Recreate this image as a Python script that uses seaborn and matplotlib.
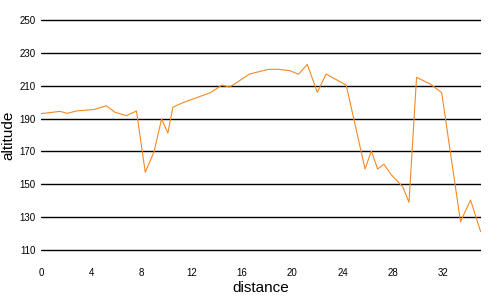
import matplotlib
matplotlib.use("Agg")
import matplotlib.pyplot as plt
import seaborn as sns
import pandas as pd

distance = [0, 1.1, 1.5, 2.1, 2.8, 4.2, 5.2, 5.9, 6.8, 7.6, 8.3, 9.0, 9.6, 10.1, 10.5, 11.3,
            13.5, 14.4, 15.0, 15.4, 16.6, 18.1, 18.9, 19.8, 20.5, 21.2, 22.0, 22.7, 24.3,
            25.8, 26.3, 26.8, 27.3, 27.9, 28.8, 29.3, 29.9, 31.0, 31.9, 33.4, 34.2, 35.0]
altitude = [193.0, 194.0, 194.4, 193.2, 194.6, 195.5, 197.8, 193.8, 191.8, 194.6, 157.3, 169.8,
            189.7, 181.2, 196.9, 199.7, 205.8, 210.4, 209.2, 211, 217.1, 220, 220, 219.2,
            217, 223, 206, 217.1, 210.4, 159.3, 170.3, 159.3, 162.2, 155.7, 148.5, 139,
            215.1, 211, 205.8, 127.2, 140.4, 121.2]
x_ticks = [0, 4, 8, 12, 16, 20, 24, 28, 32]
y_ticks = [110, 130, 150, 170, 190, 210, 230, 250]

df = pd.DataFrame({"distance": distance, "altitude": altitude})

sns.set_theme(style="white")
plt.rcParams["font.family"] = ["Liberation Sans", "DejaVu Sans"]

fig = plt.figure(figsize=(5, 3), dpi=100)
ax = fig.add_axes([41/500, 1-251.6/300, (480.6-41)/500, (251.6-18.4)/300])
sns.lineplot(data=df, x="distance", y="altitude", ax=ax, color="#f28a22", linewidth=0.8)

ax.set_xlim(0, 35)
ax.set_ylim(109, 251)
ax.set_xticks(x_ticks)
ax.set_yticks(y_ticks)
ax.yaxis.grid(True, color="black", linewidth=1)
ax.xaxis.grid(False)
for s in ax.spines.values():
    s.set_visible(False)
ax.tick_params(axis="both", length=0, labelsize=7, colors="black")
ax.tick_params(axis="x", pad=12)
ax.tick_params(axis="y", pad=4)
ax.set_xlabel("distance", fontsize=11, labelpad=2, color="black")
ax.set_ylabel("altitude", fontsize=11, labelpad=3, color="black")

fig.savefig("out.png", dpi=100, facecolor="white")
